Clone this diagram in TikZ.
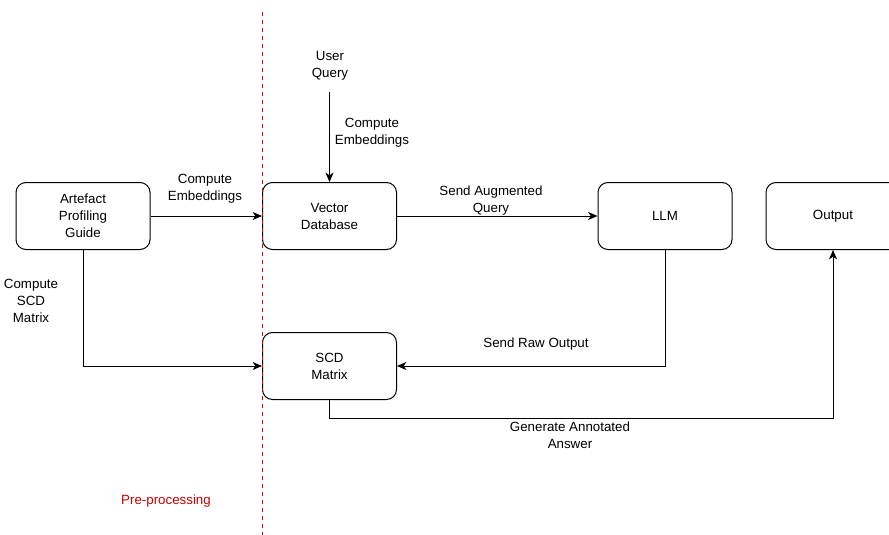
\documentclass[tikz,border=0pt]{standalone}
\usepackage{fontspec}
\setmainfont{Liberation Sans}
\usetikzlibrary{arrows.meta}
\definecolor{prered}{HTML}{CC0000}
\begin{document}
\begin{tikzpicture}[x=0.75pt,y=-0.75pt,
  box/.style={draw, line width=0.75pt, rounded corners=7.5pt, minimum width=100.5pt, minimum height=50.25pt, align=center, font=\fontsize{10}{12.75}\selectfont, inner sep=0pt},
  lbl/.style={align=center, font=\fontsize{10}{12.75}\selectfont, inner sep=0pt},
  conn/.style={line width=0.75pt, -{Stealth[length=7pt,width=6pt,inset=2pt]}}]
\useasboundingbox (0,0) rectangle (889,535);
\begin{scope}
\clip (0,0) rectangle (889,535);
\node[box] (apg) at (83,216) {Artefact\\Profiling\\Guide};
\node[box] (vd) at (329.5,216) {Vector\\Database};
\node[box] (llm) at (665,216) {LLM};
\node[box] (out) at (833,216) {Output};
\node[box] (scd) at (329.5,366) {SCD\\Matrix};
\end{scope}
\draw[prered, dashed, line width=0.75pt, dash pattern=on 3pt off 3pt] (262,12) -- (262,535);
\node[lbl, text=prered] (pre) at (166,501.5) {Pre-processing};
\node[lbl] (uq) at (330,66) {User\\Query};
\coordinate (uqb) at (329.5,92);
\draw[conn] (uqb) -- (vd.north);
\node[lbl] at (372,133) {Compute\\Embeddings};
\draw[conn] (apg.east) -- (vd.west);
\node[lbl] at (205,189) {Compute\\Embeddings};
\draw[conn] (vd.east) -- (llm.west);
\node[lbl] at (491,201) {Send Augmented\\Query};
\draw[conn] (llm.south) |- (scd.east);
\node[lbl] at (536,344.5) {Send Raw Output};
\draw[conn] (apg.south) |- (scd.west);
\node[lbl] at (31,301) {Compute\\SCD\\Matrix};
\draw[conn] (scd.south) -- ++(0,18) -| (out.south);
\node[lbl] at (570,435.5) {Generate Annotated\\Answer};
\end{tikzpicture}
\end{document}
